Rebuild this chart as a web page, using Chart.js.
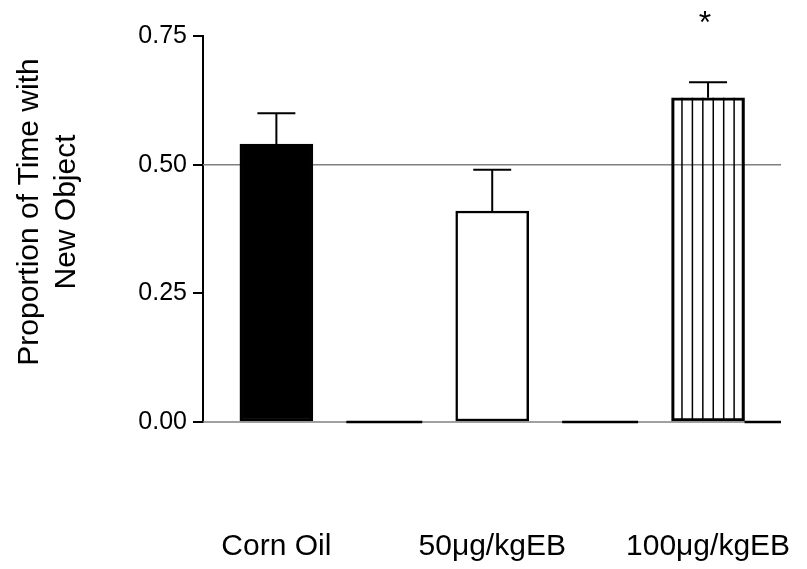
<!DOCTYPE html>
<html>
<head>
<meta charset="utf-8">
<script src="https://cdn.jsdelivr.net/npm/chart.js@4.4.1/dist/chart.umd.min.js"></script>
<style>
  html, body { margin: 0; padding: 0; background: #ffffff; }
  #wrap { width: 807px; height: 569px; }
</style>
</head>
<body>
<div id="wrap"><canvas id="c" width="807" height="569"></canvas></div>
<script>
// ---- data ----
const categories = ['Corn Oil', '50\u03BCg/kgEB', '100\u03BCg/kgEB'];
const means = [0.54, 0.41, 0.63];
const sem = [0.06, 0.08, 0.03];
const significance = ['', '', '*'];
const yTicks = [0, 0.25, 0.50, 0.75];
const referenceValue = 0.5;
const yTitleLines = ['Proportion of Time with', 'New Object'];

// ---- styles ----
const FONT = "'Liberation Sans', Arial, Helvetica, sans-serif";
const fills = ['#000000', '#ffffff', 'rgba(0,0,0,0)'];
const hatched = [false, false, true];

const decor = {
  id: 'decor',
  beforeDatasetsDraw(chart) {
    const ctx = chart.ctx, ca = chart.chartArea, y = chart.scales.y;
    ctx.save();
    // reference line
    const ry = y.getPixelForValue(referenceValue);
    ctx.strokeStyle = '#808080';
    ctx.lineWidth = 1.5;
    ctx.beginPath(); ctx.moveTo(ca.left, ry); ctx.lineTo(ca.right, ry); ctx.stroke();
    // x baseline (grey)
    const by = y.getPixelForValue(0);
    ctx.beginPath(); ctx.moveTo(ca.left, by); ctx.lineTo(ca.right, by); ctx.stroke();
    // black axis segments
    const bars = chart.getDatasetMeta(0).data;
    ctx.strokeStyle = '#000';
    ctx.lineWidth = 2.5;
    for (let i = 0; i < bars.length - 1; i++) {
      const mid = (bars[i].x + bars[i + 1].x) / 2;
      const hw = bars[i].width * 0.52;
      ctx.beginPath(); ctx.moveTo(mid - hw, by); ctx.lineTo(mid + hw, by); ctx.stroke();
    }
    const last = bars[bars.length - 1];
    ctx.beginPath(); ctx.moveTo(last.x + last.width / 2, by); ctx.lineTo(ca.right, by); ctx.stroke();
    ctx.restore();
  },
  afterDatasetsDraw(chart) {
    const ctx = chart.ctx, y = chart.scales.y;
    const bars = chart.getDatasetMeta(0).data;
    ctx.save();
    bars.forEach((b, i) => {
      const left = b.x - b.width / 2;
      // hatch
      if (hatched[i]) {
        ctx.strokeStyle = '#000';
        ctx.lineWidth = 1.5;
        const n = 7;
        for (let k = 1; k < n; k++) {
          const xx = left + b.width * k / n;
          ctx.beginPath(); ctx.moveTo(xx, b.y); ctx.lineTo(xx, b.base); ctx.stroke();
        }
      }
      // error bar (upper)
      const top = y.getPixelForValue(means[i] + sem[i]);
      ctx.strokeStyle = '#000';
      ctx.lineWidth = 2;
      ctx.beginPath(); ctx.moveTo(b.x, b.y); ctx.lineTo(b.x, top); ctx.stroke();
      const cw = b.width * 0.26;
      ctx.beginPath(); ctx.moveTo(b.x - cw, top); ctx.lineTo(b.x + cw, top); ctx.stroke();
      // significance
      if (significance[i]) {
        ctx.fillStyle = '#000';
        ctx.font = '32px ' + FONT;
        ctx.textAlign = 'center';
        ctx.textBaseline = 'alphabetic';
        ctx.fillText(significance[i], b.x - 3, chart.chartArea.top - 3);
      }
    });
    // y title
    ctx.fillStyle = '#000';
    ctx.font = '30px ' + FONT;
    ctx.textAlign = 'center';
    ctx.textBaseline = 'alphabetic';
    const cy = 212;
    const bases = [38, 75];
    yTitleLines.forEach((t, k) => {
      ctx.save();
      ctx.translate(bases[k], cy);
      ctx.rotate(-Math.PI / 2);
      ctx.fillText(t, 0, 0);
      ctx.restore();
    });
    ctx.restore();
  }
};

new Chart(document.getElementById('c'), {
  type: 'bar',
  data: {
    datasets: [{
      data: categories.map((c, i) => ({ x: i, y: means[i] })),
      backgroundColor: fills,
      borderColor: '#000000',
      borderWidth: 2.5,
      borderSkipped: false,
      barThickness: 73
    }]
  },
  plugins: [decor],
  options: {
    responsive: false,
    animation: false,
    devicePixelRatio: 1,
    layout: { padding: { top: 36, right: 26, left: 0, bottom: 0 } },
    plugins: { legend: { display: false }, tooltip: { enabled: false } },
    scales: {
      x: {
        type: 'linear',
        offset: false,
        min: -0.34,
        max: 2.338,
        afterBuildTicks(scale) { scale.ticks = categories.map((c, i) => ({ value: i })); },
        afterFit(scale) { scale.height = 147; },
        grid: { display: false, drawTicks: false, offset: false },
        border: { display: false },
        ticks: {
          autoSkip: false,
          maxRotation: 0,
          minRotation: 0,
          padding: 0,
          color: '#000',
          font: { family: FONT, size: 30, lineHeight: 250 / 30 },
          callback: (v) => categories[v]
        }
      },
      y: {
        min: 0,
        max: 0.75,
        afterBuildTicks(scale) { scale.ticks = yTicks.map(v => ({ value: v })); },
        afterFit(scale) { scale.width = 203; },
        grid: { drawOnChartArea: false, drawTicks: true, tickLength: 10, color: '#000', lineWidth: 2 },
        border: { display: true, color: '#000', width: 2 },
        ticks: {
          padding: 6,
          color: '#000',
          font: { family: FONT, size: 25 },
          callback: (v) => Number(v).toFixed(2)
        }
      }
    }
  }
});
</script>
</body>
</html>
